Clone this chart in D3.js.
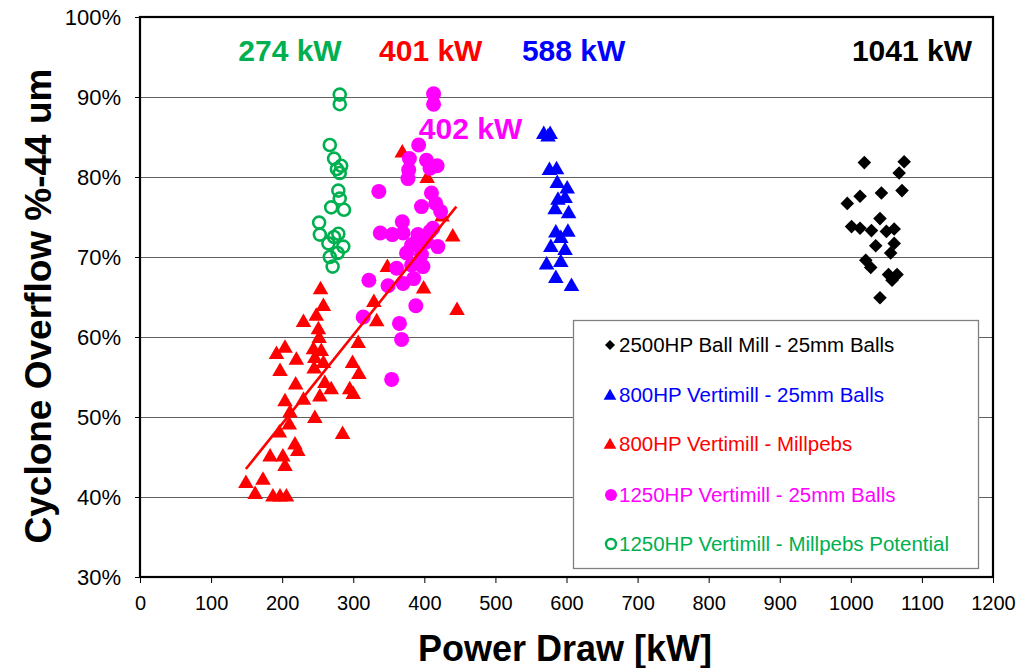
<!DOCTYPE html>
<html><head><meta charset="utf-8">
<script src="https://cdn.jsdelivr.net/npm/d3@7"></script>
<style>body{margin:0;background:#fff}svg{display:block}</style>
</head><body><svg id="c" width="1023" height="668"></svg>
<script>
// ---- data ----
const ballMillX = [1019,1075,1068,1072,1043,1013,995,1041,1001,1013,1029,1050,1061,1061,1035,1056,1021,1028,1053,1065,1058,1041];
const ballMillY = [81.8,81.9,80.5,78.3,78.0,77.6,76.7,74.8,73.8,73.6,73.3,73.2,73.5,71.7,71.4,70.5,69.6,68.7,67.8,67.8,67.1,64.9];

const vertBallX = [568,577,574,576,586,587,601,588,598,584,603,585,592,602,578,598,572,592,585,607];
const vertBallY = [85.3,85.3,85.0,80.8,80.9,79.2,78.5,77.1,77.3,75.9,75.4,73.0,72.3,73.1,71.2,70.8,69.0,69.3,67.3,66.3];

const millpebsX = [254,258,230,248,251,252,204,192,220,244,255,246,258,245,197,307,299,308,219,260,269,253,295,300,230,204,211,210,246,285,196,218,222,183,201,204,149,173,162,187,197,206,329,399,446,333,369,404,425,440,348];
const millpebsY = [65.9,63.8,61.8,62.6,60.9,59.8,58.6,57.8,57.1,58.4,58.2,57.3,56.7,56.0,55.7,59.2,56.7,55.3,54.0,54.2,53.4,52.5,53.4,52.8,52.1,51.9,50.5,49.0,49.8,47.8,48.0,46.5,45.7,45.0,45.0,43.8,41.7,42.1,40.3,40.0,40.0,40.0,64.3,66.0,63.3,61.9,83.0,79.8,75.0,72.5,68.7];

const bigBallX = [413,413,392,379,403,418,378,377,408,336,410,416,396,423,369,338,355,370,391,408,386,403,419,375,396,361,382,398,322,349,370,385,388,314,365,368,354,401,412,382];
const bigBallY = [90.4,89.1,84.0,82.3,82.1,81.4,80.9,79.8,81.1,78.2,78.0,76.7,76.3,75.7,74.4,73.0,72.8,73.0,72.8,73.2,71.7,71.9,71.3,70.5,70.3,68.6,69.0,68.8,67.1,66.4,66.7,67.3,63.9,62.5,61.7,59.7,54.7,72.4,73.6,71.5];

const potentialX = [281,281,267,273,283,277,281,279,281,269,287,252,253,265,279,273,286,278,267,271];
const potentialY = [90.3,89.1,84.0,82.3,81.4,81.0,80.5,78.3,77.3,76.2,75.9,74.3,72.8,71.7,72.9,72.5,71.3,70.5,70.0,68.8];

const trendX = [149, 445];
const trendY = [43.5, 76.3];

const xTicks = [0,100,200,300,400,500,600,700,800,900,1000,1100,1200];
const yTicks = [30,40,50,60,70,80,90,100];

const seriesNames = ["2500HP Ball Mill - 25mm Balls","800HP Vertimill - 25mm Balls","800HP Vertimill - Millpebs","1250HP Vertimill - 25mm Balls","1250HP Vertimill - Millpebs Potential"];
const seriesColors = ["#000000","#0000FF","#FF0000","#FF00FF","#00B050"];

const noteText = ["274 kW","401 kW","588 kW","1041 kW","402 kW"];
const noteX = [211,409,610,1086,465];
const noteY = [94.5,94.5,94.5,94.5,84.8];
const noteColors = ["#00B050","#FF0000","#0000FF","#000000","#FF00FF"];

// ---- layout ----
const svg = d3.select("#c");
const L=140, R=993, T=17, B=577;
const x = d3.scaleLinear().domain([0,1200]).range([L,R]);
const y = d3.scaleLinear().domain([30,100]).range([B,T]);
const font = "Liberation Sans, Arial, sans-serif";

// gridlines
svg.append("g").selectAll("line").data(yTicks.filter(d=>d>30&&d<100)).join("line")
  .attr("x1",L).attr("x2",R).attr("y1",d=>Math.round(y(d))+0.5).attr("y2",d=>Math.round(y(d))+0.5)
  .attr("stroke","#606060").attr("stroke-width",1.2);

// axes
const xAxis = svg.append("g").attr("transform",`translate(0,${B})`)
  .call(d3.axisBottom(x).tickValues(xTicks).tickSize(6).tickPadding(13).tickFormat(d3.format("d")));
const yAxis = svg.append("g").attr("transform",`translate(${L},0)`)
  .call(d3.axisLeft(y).tickValues(yTicks).tickSize(5).tickPadding(14).tickFormat(d=>d+"%"));
[xAxis,yAxis].forEach(a=>{
  a.select(".domain").remove();
  a.selectAll("line").attr("stroke","#000").attr("stroke-width",1);
  a.selectAll("text").attr("font-family",font).attr("fill","#000");
});
xAxis.selectAll("text").attr("font-size",20);
yAxis.selectAll("text").attr("font-size",22);

// plot frame
svg.append("rect").attr("x",L).attr("y",T).attr("width",R-L).attr("height",B-T)
  .attr("fill","none").attr("stroke","#000").attr("stroke-width",2.2);

// axis titles
svg.append("text").attr("x",565).attr("y",661).attr("text-anchor","middle")
  .attr("font-family",font).attr("font-weight","bold").attr("font-size",36).text("Power Draw [kW]");
svg.append("text").attr("transform","translate(51,306) rotate(-90)").attr("text-anchor","middle")
  .attr("font-family",font).attr("font-weight","bold").attr("font-size",37).text("Cyclone Overflow %-44 um");

// symbols
const tri = d3.symbol().type(d3.symbolTriangle).size(105);
const sq = d3.symbol().type(d3.symbolSquare).size(92);

function pts(xs,ys){return xs.map((v,i)=>[v,ys[i]]);}

const gP = svg.append("g");
gP.selectAll(".bm").data(pts(ballMillX,ballMillY)).join("path").attr("d",sq())
  .attr("transform",d=>`translate(${x(d[0])},${y(d[1])}) rotate(45)`).attr("fill","#000");
gP.selectAll(".vb").data(pts(vertBallX,vertBallY)).join("path").attr("d",tri())
  .attr("transform",d=>`translate(${x(d[0])},${y(d[1])})`).attr("fill","#0000FF");
gP.selectAll(".mp").data(pts(millpebsX,millpebsY)).join("path").attr("d",tri())
  .attr("transform",d=>`translate(${x(d[0])},${y(d[1])})`).attr("fill","#FF0000");
gP.selectAll(".bb").data(pts(bigBallX,bigBallY)).join("circle")
  .attr("cx",d=>x(d[0])).attr("cy",d=>y(d[1])).attr("r",7.5).attr("fill","#FF00FF");
gP.selectAll(".pt").data(pts(potentialX,potentialY)).join("circle")
  .attr("cx",d=>x(d[0])).attr("cy",d=>y(d[1])).attr("r",6).attr("fill","none")
  .attr("stroke","#00B050").attr("stroke-width",2.6);

// trend line
svg.append("line").attr("x1",x(trendX[0])).attr("y1",y(trendY[0])).attr("x2",x(trendX[1])).attr("y2",y(trendY[1]))
  .attr("stroke","#FF0000").attr("stroke-width",2.6);

// annotations
svg.append("g").selectAll("text").data(noteText).join("text")
  .attr("x",(d,i)=>x(noteX[i])).attr("y",(d,i)=>y(noteY[i])).attr("text-anchor","middle")
  .attr("font-family",font).attr("font-weight","bold").attr("font-size",30)
  .attr("fill",(d,i)=>noteColors[i]).text(d=>d);

// legend
const lg = svg.append("g");
lg.append("rect").attr("x",573.5).attr("y",320.5).attr("width",405).attr("height",248)
  .attr("fill","#fff").attr("stroke","#808080").attr("stroke-width",1.3);
const legY = [345,395,444,495,544];
seriesNames.forEach((n,i)=>{
  const cy = legY[i];
  if(i===0) lg.append("path").attr("d",d3.symbol().type(d3.symbolSquare).size(50)())
      .attr("transform",`translate(610,${cy}) rotate(45)`).attr("fill","#000");
  else if(i<3) lg.append("path").attr("d",d3.symbol().type(d3.symbolTriangle).size(70)())
      .attr("transform",`translate(610,${cy+1})`).attr("fill",seriesColors[i]);
  else if(i===3) lg.append("circle").attr("cx",611).attr("cy",cy).attr("r",6).attr("fill",seriesColors[i]);
  else lg.append("circle").attr("cx",611).attr("cy",cy).attr("r",5).attr("fill","none")
      .attr("stroke",seriesColors[i]).attr("stroke-width",2.4);
  lg.append("text").attr("x",619).attr("y",cy+7).attr("font-family",font).attr("font-size",20.5)
    .attr("fill",seriesColors[i]).text(n);
});
</script></body></html>
